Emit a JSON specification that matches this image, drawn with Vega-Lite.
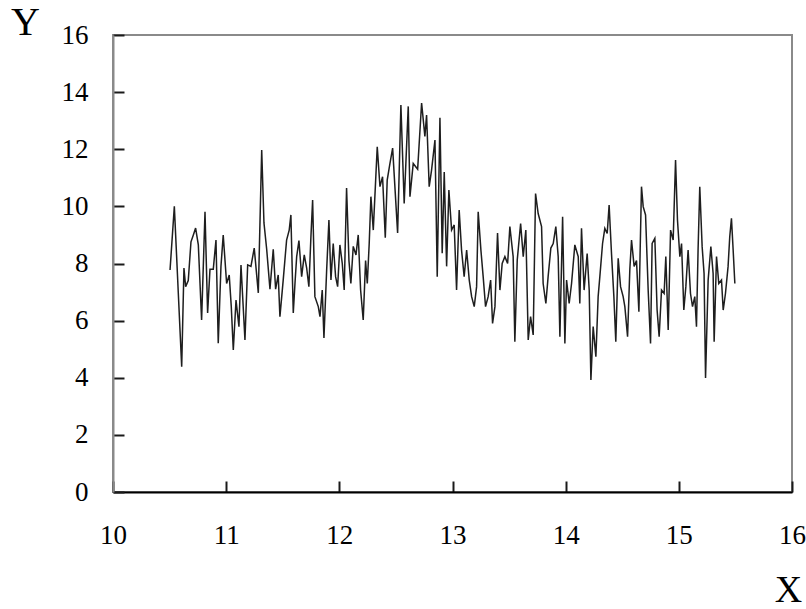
{
  "$schema": "https://vega.github.io/schema/vega-lite/v6.json",
  "autosize": {"type": "none"},
  "width": 679,
  "height": 457,
  "padding": {"left": 113, "top": 35, "right": 14, "bottom": 117},
  "background": "white",
  "config": {
    "view": {"stroke": "#8a8a8a", "strokeWidth": 2},
    "font": "Liberation Serif"
  },
  "data": {"values": [
    {"x":10.504,"y":7.77},{"x":10.542,"y":10.0},{"x":10.577,"y":6.97},{"x":10.607,"y":4.39},{"x":10.627,"y":7.84},{"x":10.642,"y":7.19},{"x":10.665,"y":7.4},{"x":10.689,"y":8.76},{"x":10.71,"y":9.0},{"x":10.73,"y":9.24},{"x":10.754,"y":8.65},{"x":10.783,"y":6.02},{"x":10.813,"y":9.81},{"x":10.836,"y":6.27},{"x":10.857,"y":7.8},{"x":10.886,"y":7.8},{"x":10.91,"y":8.82},{"x":10.93,"y":5.21},{"x":10.954,"y":7.9},{"x":10.974,"y":9.0},{"x":11.004,"y":7.3},{"x":11.027,"y":7.6},{"x":11.045,"y":6.5},{"x":11.063,"y":4.97},{"x":11.087,"y":6.72},{"x":11.113,"y":5.79},{"x":11.131,"y":7.95},{"x":11.166,"y":5.32},{"x":11.19,"y":7.95},{"x":11.219,"y":7.9},{"x":11.248,"y":8.54},{"x":11.284,"y":6.97},{"x":11.314,"y":11.97},{"x":11.334,"y":9.42},{"x":11.358,"y":8.5},{"x":11.387,"y":7.1},{"x":11.416,"y":8.5},{"x":11.437,"y":7.1},{"x":11.46,"y":7.6},
    {"x":11.475,"y":6.14},{"x":11.504,"y":7.42},{"x":11.534,"y":8.82},{"x":11.557,"y":9.17},{"x":11.572,"y":9.7},{"x":11.593,"y":6.27},{"x":11.608,"y":7.3},{"x":11.623,"y":8.24},{"x":11.643,"y":8.8},{"x":11.667,"y":7.54},{"x":11.69,"y":8.3},{"x":11.711,"y":7.85},{"x":11.731,"y":7.19},{"x":11.749,"y":8.94},{"x":11.764,"y":10.22},{"x":11.784,"y":6.84},{"x":11.814,"y":6.49},{"x":11.829,"y":6.14},{"x":11.849,"y":7.07},{"x":11.864,"y":5.39},{"x":11.888,"y":7.77},{"x":11.908,"y":9.52},{"x":11.926,"y":7.42},{"x":11.946,"y":8.7},{"x":11.967,"y":7.54},{"x":11.985,"y":7.19},{"x":12.005,"y":8.65},{"x":12.026,"y":8.0},{"x":12.043,"y":7.07},{"x":12.064,"y":10.64},{"x":12.085,"y":8.1},{"x":12.102,"y":7.3},{"x":12.123,"y":8.6},{"x":12.147,"y":8.3},{"x":12.167,"y":9.0},{"x":12.188,"y":7.07},{"x":12.211,"y":6.02},{"x":12.232,"y":8.1},{"x":12.247,"y":7.3},{"x":12.264,"y":8.7},{"x":12.279,"y":10.34},{"x":12.3,"y":9.17},{"x":12.321,"y":10.92},{"x":12.335,"y":12.09},{"x":12.359,"y":10.69},{"x":12.382,"y":11.04},{"x":12.406,"y":8.9},{"x":12.423,"y":10.92},{"x":12.447,"y":11.5},{"x":12.471,"y":12.04},
    {"x":12.515,"y":9.07},{"x":12.544,"y":13.55},{"x":12.573,"y":10.1},{"x":12.609,"y":13.5},{"x":12.624,"y":10.34},{"x":12.653,"y":11.5},{"x":12.692,"y":11.3},{"x":12.727,"y":13.62},{"x":12.756,"y":12.45},{"x":12.771,"y":13.2},{"x":12.794,"y":10.69},{"x":12.815,"y":11.27},{"x":12.845,"y":12.32},{"x":12.865,"y":7.54},{"x":12.889,"y":13.1},{"x":12.909,"y":8.36},{"x":12.927,"y":11.2},{"x":12.948,"y":7.9},{"x":12.968,"y":10.57},{"x":12.992,"y":9.17},{"x":13.015,"y":9.35},{"x":13.036,"y":7.07},{"x":13.059,"y":9.87},{"x":13.08,"y":8.47},{"x":13.103,"y":7.54},{"x":13.125,"y":8.47},{"x":13.148,"y":7.42},{"x":13.169,"y":6.84},{"x":13.192,"y":6.49},{"x":13.213,"y":7.19},{"x":13.227,"y":9.81},{"x":13.251,"y":8.47},{"x":13.271,"y":7.54},{"x":13.292,"y":6.49},{"x":13.315,"y":6.84},{"x":13.337,"y":7.42},{"x":13.354,"y":5.9},{"x":13.375,"y":6.49},{"x":13.398,"y":9.07},{"x":13.419,"y":7.07},{"x":13.439,"y":8.0},{"x":13.463,"y":8.24},{"x":13.487,"y":8.0},{"x":13.507,"y":9.29},
    {"x":13.536,"y":8.24},{"x":13.551,"y":5.26},{"x":13.572,"y":8.12},{"x":13.602,"y":9.4},{"x":13.625,"y":8.24},{"x":13.648,"y":9.17},{"x":13.669,"y":5.32},{"x":13.69,"y":6.14},{"x":13.713,"y":5.5},{"x":13.734,"y":10.45},{"x":13.757,"y":9.75},{"x":13.787,"y":9.29},{"x":13.801,"y":7.3},{"x":13.825,"y":6.6},{"x":13.845,"y":7.54},{"x":13.869,"y":8.54},{"x":13.89,"y":8.7},{"x":13.913,"y":9.29},{"x":13.934,"y":8.24},{"x":13.949,"y":5.44},{"x":13.973,"y":9.64},{"x":13.993,"y":5.2},{"x":14.008,"y":7.42},{"x":14.031,"y":6.6},{"x":14.052,"y":7.3},{"x":14.081,"y":8.65},{"x":14.111,"y":8.24},{"x":14.125,"y":6.6},{"x":14.14,"y":9.23},{"x":14.163,"y":7.07},{"x":14.19,"y":8.35},{"x":14.208,"y":7.07},{"x":14.223,"y":3.92},{"x":14.243,"y":5.79},{"x":14.267,"y":4.74},{"x":14.287,"y":6.84},{"x":14.302,"y":7.54},{"x":14.326,"y":8.7},{"x":14.346,"y":9.23},{"x":14.367,"y":9.05},{"x":14.384,"y":10.05},{"x":14.405,"y":8.35},{"x":14.426,"y":6.84},{"x":14.443,"y":5.26},{"x":14.464,"y":8.18},{"x":14.485,"y":7.19},{"x":14.508,"y":6.84},
    {"x":14.523,"y":6.49},{"x":14.547,"y":5.44},{"x":14.567,"y":7.8},{"x":14.582,"y":8.82},{"x":14.605,"y":7.9},{"x":14.626,"y":8.1},{"x":14.647,"y":6.31},{"x":14.67,"y":10.69},{"x":14.685,"y":9.99},{"x":14.706,"y":9.7},{"x":14.729,"y":7.07},{"x":14.75,"y":5.2},{"x":14.764,"y":8.7},{"x":14.788,"y":8.88},{"x":14.808,"y":6.37},{"x":14.826,"y":5.44},{"x":14.847,"y":7.07},{"x":14.87,"y":6.95},{"x":14.885,"y":8.24},{"x":14.906,"y":5.67},{"x":14.927,"y":9.17},{"x":14.95,"y":8.82},{"x":14.971,"y":11.62},{"x":14.988,"y":9.52},{"x":15.009,"y":8.24},{"x":15.024,"y":8.7},{"x":15.044,"y":6.37},{"x":15.062,"y":7.19},{"x":15.082,"y":8.47},{"x":15.103,"y":6.95},{"x":15.121,"y":6.49},{"x":15.141,"y":6.84},{"x":15.156,"y":5.79},{"x":15.17,"y":8.47},{"x":15.185,"y":10.69},{"x":15.206,"y":8.59},{"x":15.223,"y":7.65},{"x":15.236,"y":3.99},{"x":15.259,"y":7.42},{"x":15.283,"y":8.59},{"x":15.303,"y":7.65},{"x":15.312,"y":5.26},{"x":15.333,"y":8.24},{"x":15.353,"y":7.3},{"x":15.377,"y":7.42},{"x":15.392,"y":6.37},{"x":15.412,"y":6.95},{"x":15.435,"y":7.89},{"x":15.45,"y":8.94},{"x":15.465,"y":9.58},{"x":15.48,"y":8.47},{"x":15.495,"y":7.3}
  ]},
  "mark": {"type": "line", "color": "#1e1e1e", "strokeWidth": 1.5, "clip": true},
  "encoding": {
    "x": {
      "field": "x", "type": "quantitative",
      "scale": {"domain": [10, 16], "nice": false, "zero": false},
      "axis": {
        "values": [10, 11, 12, 13, 14, 15, 16],
        "format": "d",
        "grid": false,
        "domainColor": "#000000", "domainWidth": 2,
        "tickColor": "#1a1a1a", "tickSize": -11, "tickWidth": 2,
        "labelFont": "Liberation Serif", "labelFontSize": 27, "labelColor": "#000000",
        "labelPadding": 54, "labelBaseline": "middle",
        "labelFlush": false,
        "title": "X",
        "titleFont": "Liberation Serif", "titleFontSize": 38, "titleFontWeight": "normal", "titleColor": "#000000",
        "titleX": 675, "titleY": 98, "titleAlign": "center", "titleBaseline": "middle"
      }
    },
    "y": {
      "field": "y", "type": "quantitative",
      "scale": {"domain": [0, 16], "nice": false},
      "axis": {
        "values": [0, 2, 4, 6, 8, 10, 12, 14, 16],
        "grid": false,
        "domainColor": "#8a8a8a", "domainWidth": 2,
        "tickColor": "#1a1a1a", "tickSize": -11, "tickWidth": 2,
        "labelFont": "Liberation Serif", "labelFontSize": 27, "labelColor": "#000000",
        "labelPadding": 36, "labelBaseline": "middle",
        "labelFlush": false,
        "title": "Y",
        "titleFont": "Liberation Serif", "titleFontSize": 40, "titleFontWeight": "normal", "titleColor": "#000000",
        "titleAngle": 0, "titleX": -88, "titleY": -13, "titleAlign": "center", "titleBaseline": "middle"
      }
    }
  }
}
